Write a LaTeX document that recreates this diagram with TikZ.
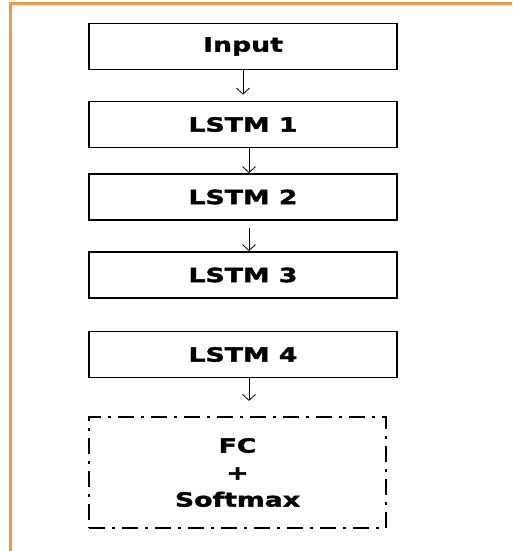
\documentclass[tikz,border=0pt]{standalone}
\usepackage{fontspec}
\usetikzlibrary{arrows.meta}
\newfontfamily\boxfont[FakeStretch=1.37, BoldFeatures={FakeBold=2}]{DejaVu Sans}
\definecolor{frameorange}{RGB}{247,150,70}
\tikzset{
  layer/.style={draw=black, line width=1.8pt, minimum width=308pt, minimum height=46pt,
    inner sep=0pt, font=\boxfont\bfseries\fontsize{19.5}{27}\selectfont},
  headbox/.style={draw=black, line width=2.2pt, minimum width=297pt, minimum height=111pt,
    inner sep=0pt, align=center, dash pattern=on 16pt off 7pt on 3pt off 7pt,
    font=\boxfont\bfseries\fontsize{19.5}{27}\selectfont},
  flow/.style={draw=black, line width=0.8pt, -{Straight Barb[length=6pt,width=13pt,line width=0.8pt]}}
}
\begin{document}
\begin{tikzpicture}[x=1pt,y=-1pt]
  \useasboundingbox (0,0) rectangle (512,551);
  \fill[white] (0,0) rectangle (512,551);
  % frame edges
  \draw[frameorange, line width=3pt] (10.5,551) -- (10.5,4) -- (512,4);

  \node[layer] (in) at (243,46.5) {Input};
  \node[layer] (l1) at (243,124.5) {LSTM 1};
  \node[layer] (l2) at (243,197) {LSTM 2};
  \node[layer] (l3) at (243,275) {LSTM 3};
  \node[layer] (l4) at (243,354.5) {LSTM 4};
  \node[headbox] (fc) at (237.5,472.5) {FC\\+\\Softmax};

  \draw[flow] (in.south) -- ([yshift=6pt]l1.north);
  \draw[flow] ([xshift=6pt]l1.south) -- ([xshift=6pt]l2.north);
  \draw[flow] ([xshift=6pt,yshift=-7pt]l2.south) -- ([xshift=6pt]l3.north);
  \draw[flow] ([xshift=6pt]l4.south) -- ([xshift=11.5pt,yshift=15pt]fc.north);
\end{tikzpicture}
\end{document}
